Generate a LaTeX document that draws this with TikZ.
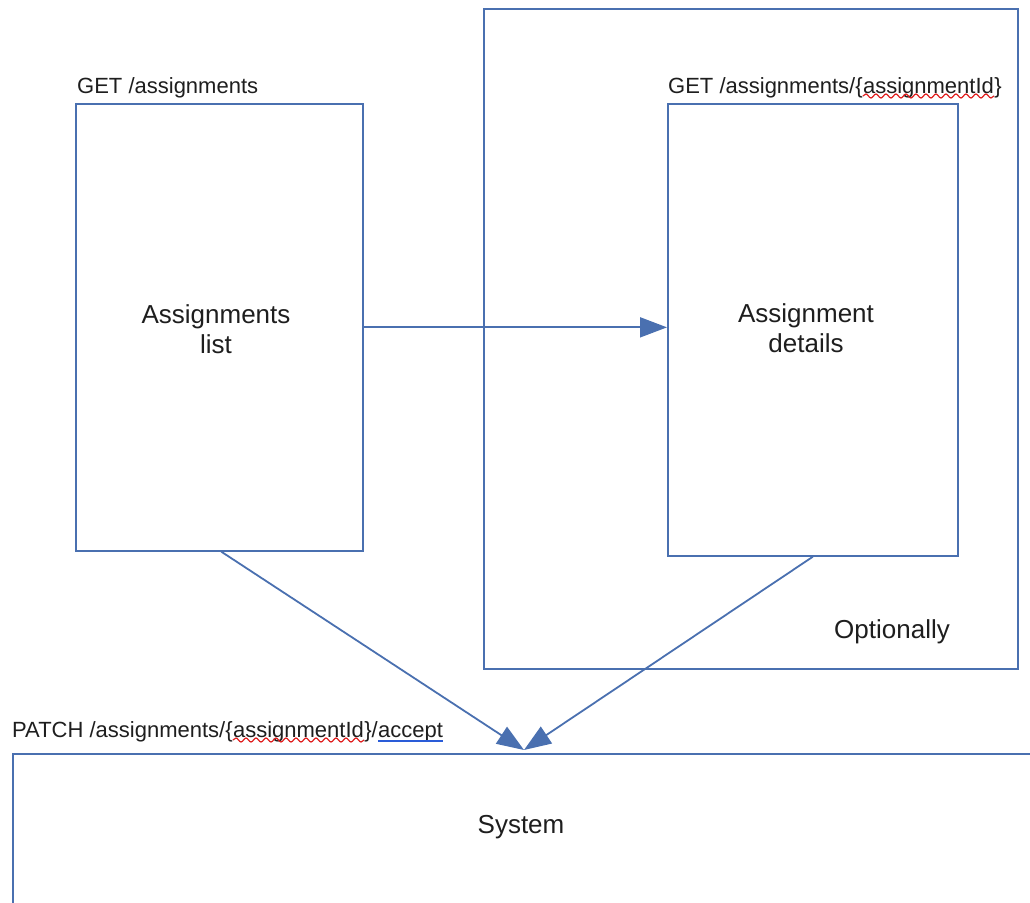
\documentclass[tikz,border=0pt]{standalone}
\usepackage{fontspec}
\setmainfont{Liberation Sans}
\usetikzlibrary{arrows.meta,decorations.pathmorphing}
\definecolor{edge}{HTML}{4A70B0}
\definecolor{ink}{HTML}{1E1E1E}
\definecolor{spellred}{HTML}{E02020}
\definecolor{grammarblue}{HTML}{2A5CD8}
\begin{document}
\begin{tikzpicture}[x=1pt,y=-1pt,
  box/.style={draw=edge,line width=1.7pt,inner sep=0pt,anchor=north west},
  caption/.style={font=\fontsize{26}{30}\selectfont,text=ink,inner sep=0pt,align=center},
  route/.style={font=\fontsize{22}{26}\selectfont,text=ink,inner sep=0pt,anchor=base west},
  link/.style={draw=edge,line width=1.8pt,-{Triangle[length=27pt,width=20pt]}},
  spell/.style={draw=spellred,line width=1.2pt,decorate,
    decoration={snake,amplitude=2pt,segment length=10pt}},
  grammar/.style={draw=grammarblue,line width=1.4pt}
]
\useasboundingbox (0,0) rectangle (1030,902);

% optional region around the details view
\node[box,minimum width=534pt,minimum height=660pt] (opt) at (483,8) {};
\node[caption] (optlabel) at (892,632) {Optionally};

% list and details views
\node[box,minimum width=287pt,minimum height=447pt] (list) at (75,103) {};
\node[caption] (listlabel) at (216,329) {Assignments\\list};
\node[box,minimum width=290pt,minimum height=452pt] (details) at (667,103) {};
\node[caption] (detailslabel) at (806,328) {Assignment\\details};

% endpoint labels
\node[route] (getlist) at (77,93) {GET /assignments};

\node[route] (getone) at (668,93) {GET /assignments/\{};
\node[route] (getid) at (getone.base east) {assignmentId};
\node[route] (getend) at (getid.base east) {\}};
\draw[spell] ([yshift=-3pt]getid.base west) -- ([yshift=-3pt]getid.base east);

\node[route] (patch) at (12,737) {PATCH /assignments/\{};
\node[route] (patchid) at (patch.base east) {assignmentId};
\node[route] (patchmid) at (patchid.base east) {\}/};
\node[route] (patchverb) at (patchmid.base east) {accept};
\draw[spell] ([yshift=-3pt]patchid.base west) -- ([yshift=-3pt]patchid.base east);
\draw[grammar] ([yshift=-4pt]patchverb.base west) -- ([yshift=-4pt]patchverb.base east);

% system view, running past the page edges
\begin{scope}
  \clip (0,0) rectangle (1030,902);
  \node[box,minimum width=1060pt,minimum height=200pt] (system) at (12,753) {};
\end{scope}
\node[caption] (syslabel) at (521,827) {System};
\coordinate (target) at (524,750);

% connectors
\draw[link] (list.east) -- (list.east -| details.west);
\draw[link] ([xshift=2pt]list.south) -- (target);
\draw[link] (details.south) -- (target);
\end{tikzpicture}
\end{document}
